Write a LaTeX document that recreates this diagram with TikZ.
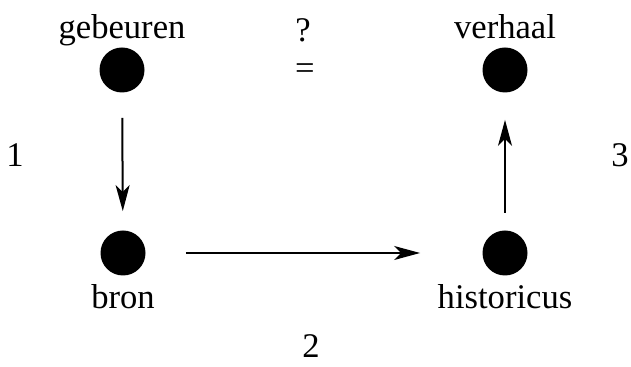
\documentclass[tikz,border=0pt]{standalone}
\usepackage{fontspec}
\setmainfont{Liberation Serif}
\usetikzlibrary{arrows.meta, positioning}

\begin{document}
\begin{tikzpicture}[
    x=0.5pt, y=-0.5pt,
    node distance=4pt,
    dot/.style={circle, fill=black, minimum size=22.5pt, inner sep=0pt},
    lbl/.style={inner sep=0pt, font=\fontsize{17.3pt}{20pt}\selectfont, text height=0.7em, text depth=0.25em},
    arrow/.style={line width=1pt, -{Stealth[length=13pt, width=7pt, inset=3.5pt]}}
]
\useasboundingbox (0,0) rectangle (631,367);

% Nodes
\node (gebeuren) [dot] at (122,70) {};
\node (verhaal) [dot] at (505,70) {};
\node (bron) [dot] at (123,253) {};
\node (historicus) [dot] at (505,253) {};

\node (lgebeuren) [lbl, above=1.7pt of gebeuren] {gebeuren};
\node (lverhaal) [lbl, above=1.7pt of verhaal] {verhaal};
\node (lbron) [lbl, below=9pt of bron] {bron};
\node (lhistoricus) [lbl, below=9pt of historicus] {historicus};

\node (vraag) [lbl, anchor=base] at (303,42) {?};
\node (gelijk) [lbl, text height=, text depth=] at (305,72) {=};
\node (een) [lbl, text height=, text depth=] at (15,155) {1};
\node (twee) [lbl, text height=, text depth=] at (311,346) {2};
\node (drie) [lbl, text height=, text depth=] at (620,155) {3};

% Arrows
\draw [arrow, shorten <=12.5pt, shorten >=9.5pt] (gebeuren) -- (bron);
\draw [arrow, shorten <=20pt, shorten >=31pt] (bron) -- (historicus);
\draw [arrow, shorten <=8.75pt, shorten >=13.5pt] (historicus) -- (verhaal);

\end{tikzpicture}
\end{document}
